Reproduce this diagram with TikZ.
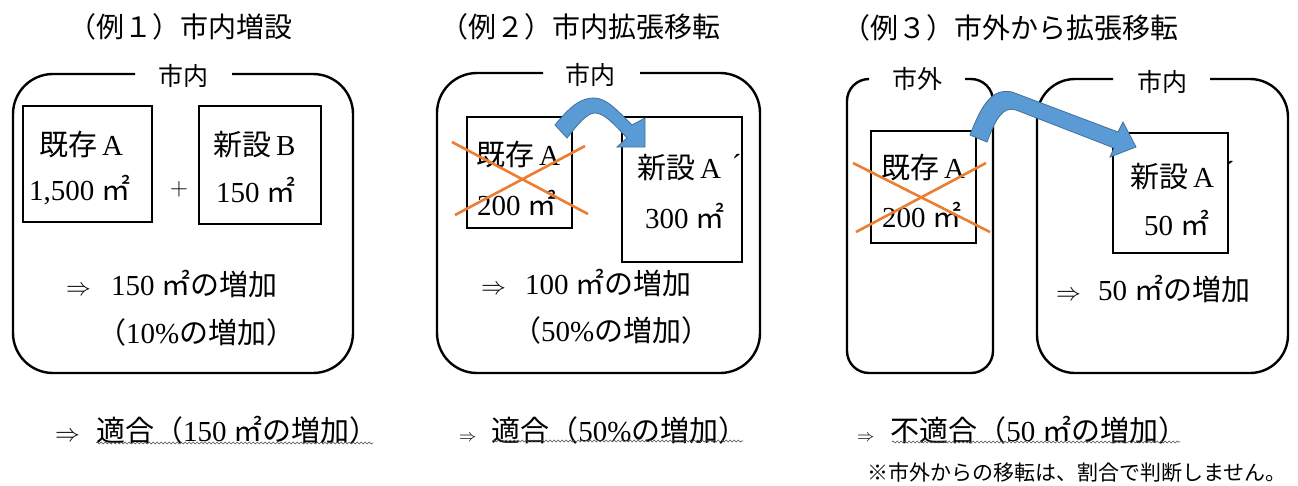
\documentclass[tikz,border=0pt]{standalone}
\usepackage{fontspec}
\setmainfont{Liberation Serif}
\usetikzlibrary{decorations.pathmorphing}
\newfontfamily\jp{Noto Sans CJK JP}
\definecolor{xorange}{HTML}{ED7D31}
\definecolor{afill}{HTML}{5B9BD5}
\definecolor{aline}{HTML}{41719C}
\newcommand\sqm{{\jp ㎡}}
\newcommand\imp[1][24]{{\fontsize{#1}{#1}\selectfont$\Rightarrow$}}
\begin{document}
\begin{tikzpicture}[x=1pt,y=-1pt,
  region/.style={draw=black,line width=2.4pt,rounded corners=40pt},
  bldg/.style={draw=black,line width=2.4pt},
  xcross/.style={draw=xorange,line width=2.6pt},
  bigarrow/.style={fill=afill,draw=aline,line width=0.8pt},
  ttl/.style={font=\jp\fontsize{28}{32}\selectfont,anchor=east,inner sep=0pt},
  lbl/.style={font=\jp\fontsize{25}{28}\selectfont,inner sep=0pt},
  txt/.style={font=\fontsize{29}{33}\selectfont,anchor=west,inner sep=0pt},
  smalltxt/.style={font=\jp\fontsize{21}{24}\selectfont,anchor=west,inner sep=0pt},
  wavy/.style={draw=black!70,line width=0.6pt,decorate,decoration={snake,amplitude=1pt,segment length=4pt}}]
\useasboundingbox (0,0) rectangle (1298,485);
\fill[white] (0,0) rectangle (1298,485);

% ---------- Example 1 ----------
\node[ttl] (t1) at (293,27) {（例１）市内増設};
\draw[region] (232,74) -- (353,74) -- (353,373) -- (13,373) -- (13,74) -- (135,74);
\node[lbl] (l1) at (183,76) {市内};
\draw[bldg] (23,106) rectangle (152,222);
\draw[bldg] (199,106) rectangle (321,224);
\node[txt] (a1) at (39,145) {{\jp 既存}\,A};
\node[txt] (a1s) at (29,190) {1,500 \sqm};
\node[inner sep=0pt,font=\fontsize{26}{30}\selectfont] (p1) at (179,189) {$+$};
\node[txt] (b1) at (213,145) {{\jp 新設}\,B};
\node[txt] (b1s) at (216,190) {150 \sqm};
\node[txt] (r1) at (66,284) {\imp\hspace{20pt}150 \sqm{\jp の増加}};
\node[txt] (q1) at (97,332) {{\jp （}10\%{\jp の増加）}};
\node[txt] (v1) at (55,430) {\imp\hspace{16pt}{\jp 適合（}150 \sqm{\jp の増加）}};
\draw[wavy] (96,443) -- (373,443);

% ---------- Example 2 ----------
\node[ttl] (t2) at (721,27) {（例２）市内拡張移転};
\draw[region] (640,73) -- (760,73) -- (760,373) -- (437,373) -- (437,73) -- (543,73);
\node[lbl] (l2) at (590,75) {市内};
\draw[bldg] (467,117) rectangle (572,228);
\draw[bldg] (622,117) rectangle (742,262);
\node[txt] (a2) at (476,155) {{\jp 既存}\,A};
\node[txt] (a2s) at (477,203) {200 \sqm};
\draw[xcross] (452,142) -- (588,214);
\draw[xcross] (455,215) -- (585,146);
\node[txt] (b2) at (637,168) {{\jp 新設}\,A\hspace{11pt}\raisebox{4pt}{´}};
\node[txt] (b2s) at (645,216) {300 \sqm};
\draw[bigarrow] (555,125) .. controls (572,104) and (582,98) .. (594,98)
  .. controls (606,98) and (616,109) .. (632,125) -- (645,118) -- (645,147)
  -- (617,147) -- (627,138) .. controls (614,124) and (604,113) .. (595,113)
  .. controls (587,113) and (578,124) .. (567,138) -- cycle;
\node[txt] (r2) at (481,283) {\imp\hspace{19pt}100 \sqm{\jp の増加}};
\node[txt] (q2) at (512,330) {{\jp （}50\%{\jp の増加）}};
\node[txt] (v2) at (459,430) {\imp[18]\hspace{15pt}{\jp 適合（}50\%{\jp の増加）}};
\draw[wavy] (493,441) -- (743,441);

% ---------- Example 3 ----------
\node[ttl] (t3) at (1179,28) {（例３）市外から拡張移転};
\draw[region,rounded corners=22pt] (965,79) -- (993,79) -- (993,373) -- (847,373) -- (847,79) -- (867,79);
\node[lbl] (l3a) at (917,79) {市外};
\draw[region,rounded corners=38pt] (1210,79) -- (1288,79) -- (1288,373) -- (1037,373) -- (1037,79) -- (1113,79);
\node[lbl] (l3b) at (1162,82) {市内};
\draw[bldg] (871,131) rectangle (976,243);
\draw[bldg] (1113,133) rectangle (1228,253);
\node[txt] (a3) at (881,168) {{\jp 既存}\,A};
\node[txt] (a3s) at (882,215) {200 \sqm};
\draw[xcross] (853,163) -- (990,232);
\draw[xcross] (856,232) -- (986,163);
\node[txt] (b3) at (1130,176) {{\jp 新設}\,A\hspace{11pt}\raisebox{6pt}{´}};
\node[txt] (b3s) at (1144,223) {50 \sqm};
\draw[bigarrow] (970,135) .. controls (982,104) and (992,88) .. (1012,92)
  -- (1118,132) -- (1123,122) -- (1136,147) -- (1110,157) -- (1114,148)
  -- (1016,110) .. controls (1003,106) and (996,118) .. (987,142) -- cycle;
\node[txt] (r3) at (1056,289) {\imp\hspace{17pt}50 \sqm{\jp の増加}};
\node[txt] (v3) at (857,430) {\imp[18]\hspace{16pt}{\jp 不適合（}50 \sqm{\jp の増加）}};
\draw[wavy] (892,442) -- (1180,442);
\node[smalltxt] (n3) at (867,473) {※市外からの移転は、割合で判断しません。};
\end{tikzpicture}
\end{document}
